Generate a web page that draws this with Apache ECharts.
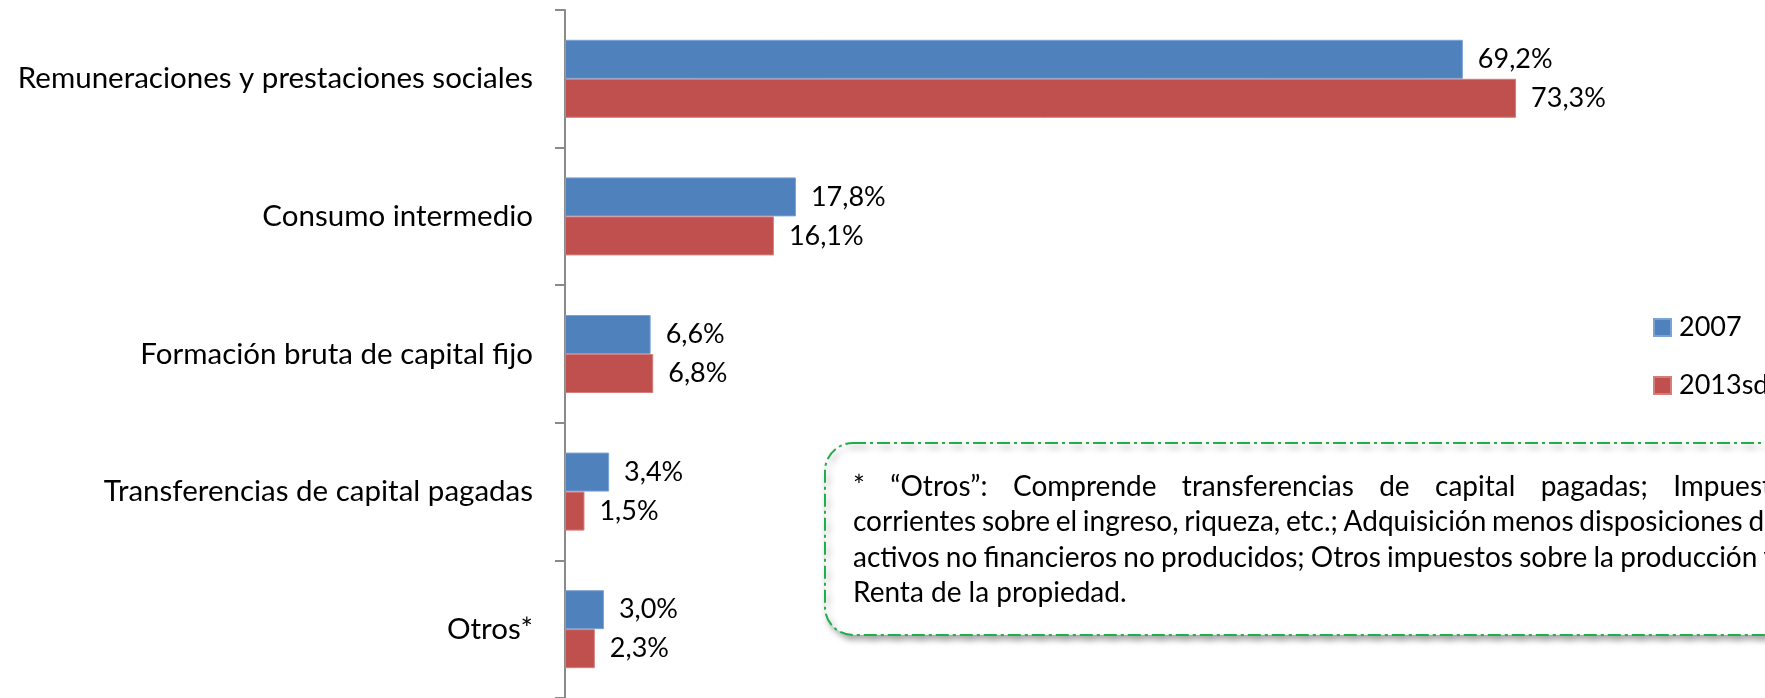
<!DOCTYPE html>
<html>
<head>
<meta charset="utf-8">
<script src="https://cdn.jsdelivr.net/npm/echarts@6/dist/echarts.min.js"></script>
<style>
  html, body { margin: 0; padding: 0; background: #fff; }
  #chart { width: 1765px; height: 698px; }
</style>
</head>
<body>
<div id="chart"></div>
<script>
const categories = [
  "Remuneraciones y prestaciones sociales",
  "Consumo intermedio",
  "Formación bruta de capital fijo",
  "Transferencias de capital pagadas",
  "Otros*",
];
const seriesNames = ["2007", "2013sd"];
const values2007 = [69.2, 17.8, 6.6, 3.4, 3.0];
const values2013 = [73.3, 16.1, 6.8, 1.5, 2.3];

// nota al pie, en 4 lineas (las 3 primeras justificadas)
const noteLines = [
  "* “Otros”: Comprende transferencias de capital pagadas; Impuestos",
  "corrientes sobre el ingreso, riqueza, etc.; Adquisición menos disposiciones de",
  "activos no financieros no producidos; Otros impuestos sobre la producción y",
  "Renta de la propiedad.",
];

const FONT = "Lato";
const colors = ["#4F81BD", "#C0504D"];

function pct(v) {
  return v.toFixed(1).replace(".", ",") + "%";
}

// mide el texto para justificar las lineas de la nota
const measureCtx = document.createElement("canvas").getContext("2d");
function textEl(str, x, y, size) {
  return {
    type: "text",
    z: 20,
    x: x,
    y: y,
    style: { text: str, fontFamily: FONT, fontSize: size, fill: "#000", verticalAlign: "middle", align: "left" },
  };
}
function noteWords(text, x0, x1, y, size, justify) {
  if (!justify) return [textEl(text, x0, y, size)];
  measureCtx.font = size + "px " + FONT;
  const words = text.split(" ");
  const widths = words.map((w) => measureCtx.measureText(w).width);
  const total = widths.reduce((a, b) => a + b, 0);
  const space = measureCtx.measureText(" ").width;
  const gap = Math.max(space * 0.8, (x1 - x0 - total) / (words.length - 1));
  let x = x0;
  return words.map((w, i) => {
    const el = textEl(w, x, y, size);
    x += widths[i] + gap;
    return el;
  });
}

const chart = echarts.init(document.getElementById("chart"));

// borde derecho de cada linea justificada (la caja sigue fuera del lienzo)
const noteX = 853, noteRights = [1800, 1778, 1778], noteTop = 487, noteStep = 35.3;
let noteEls = [];
noteLines.forEach((line, i) => {
  noteEls = noteEls.concat(noteWords(line, noteX, noteRights[i], noteTop + i * noteStep, 28, i < 3));
});

const option = {
  animation: false,
  backgroundColor: "#fff",
  grid: { left: 565, top: 10, width: 1038, height: 691 },
  legend: {
    data: seriesNames,
    orient: "vertical",
    left: 1648,
    top: 309,
    itemWidth: 17,
    itemHeight: 17,
    itemGap: 31,
    icon: "rect",
    textStyle: { fontFamily: FONT, fontSize: 27, color: "#000", padding: [0, 0, 0, 3] },
  },
  xAxis: {
    type: "value",
    min: 0,
    max: 80,
    show: false,
  },
  yAxis: {
    type: "category",
    inverse: true,
    data: categories,
    axisLine: { show: true, lineStyle: { color: "#8a8a8a", width: 2 } },
    axisTick: { show: true, length: 10, lineStyle: { color: "#8a8a8a", width: 2 } },
    axisLabel: { margin: 32, fontFamily: FONT, fontSize: 29.5, color: "#000" },
    splitLine: { show: false },
  },
  series: [
    {
      name: seriesNames[0],
      type: "bar",
      data: values2007,
      barWidth: 39,
      barGap: "0%",
      itemStyle: { color: colors[0], borderColor: "#7aa2d3", borderWidth: 1 },
      label: { show: true, position: "right", distance: 15, fontFamily: FONT, fontSize: 27, color: "#000", formatter: (p) => pct(p.value) },
    },
    {
      name: seriesNames[1],
      type: "bar",
      data: values2013,
      barWidth: 39,
      barGap: "0%",
      itemStyle: { color: colors[1], borderColor: "#d47d7b", borderWidth: 1 },
      label: { show: true, position: "right", distance: 15, fontFamily: FONT, fontSize: 27, color: "#000", formatter: (p) => pct(p.value) },
    },
  ],
  graphic: [
    {
      type: "rect",
      z: 10,
      shape: { x: 825, y: 443, width: 1000, height: 192, r: 28 },
      style: {
        fill: "#fff",
        stroke: "#1fae4a",
        lineWidth: 2,
        lineDash: [13, 4, 3, 4],
        shadowBlur: 6,
        shadowOffsetX: 3,
        shadowOffsetY: 4,
        shadowColor: "rgba(0,0,0,0.35)",
      },
    },
  ].concat(noteEls),
};

chart.setOption(option);
</script>
</body>
</html>
